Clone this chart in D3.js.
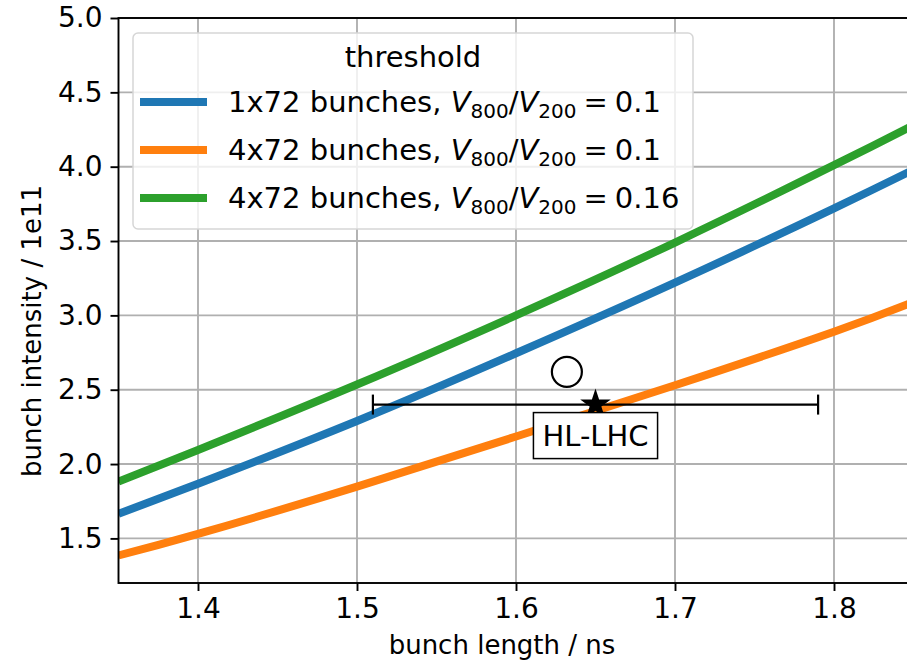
<!DOCTYPE html>
<html>
<head>
<meta charset="utf-8">
<script src="https://cdn.jsdelivr.net/npm/d3@7"></script>
<style>
  body { margin: 0; background: #fff; }
  svg text { font-family: "DejaVu Sans", sans-serif; fill: #000; }
</style>
</head>
<body>
<div id="chart"></div>
<script>
// data
var bunchLength = [1.35, 1.4, 1.5, 1.6, 1.7, 1.8, 1.85];
var thr1x72 = [1.665, 1.868, 2.29, 2.745, 3.22, 3.72, 3.98];
var thr4x72 = [1.385, 1.53, 1.848, 2.185, 2.53, 2.89, 3.09];
var thr4x72hi = [1.882, 2.095, 2.535, 3.0, 3.49, 4.01, 4.28];

var seriesNames = ["1x72 bunches, ", "4x72 bunches, ", "4x72 bunches, "];
var seriesRatio = ["0.1", "0.1", "0.16"];
var seriesColors = ["#1f77b4", "#ff7f0e", "#2ca02c"];

var xTicks = [1.4, 1.5, 1.6, 1.7, 1.8];
var yTicks = [1.5, 2.0, 2.5, 3.0, 3.5, 4.0, 4.5, 5.0];

// HL-LHC point
var hlStar = {x: 1.65, y: 2.4, xlo: 1.51, xhi: 1.79};
var hlCircle = {x: 1.632, y: 2.62};

var width = 907, height = 662;
var margin = {left: 118.5, top: 18};
var plotW = 795, plotH = 565;
var tickSize = 28, legendSize = 29, labelSize = 26;

var svg = d3.select("#chart").append("svg")
  .attr("width", width)
  .attr("height", height);

var x = d3.scaleLinear().domain([1.35, 1.85]).range([margin.left, margin.left + plotW]);
var y = d3.scaleLinear().domain([1.2, 5.0]).range([margin.top + plotH, margin.top]);

svg.append("defs").append("clipPath").attr("id", "plotclip")
  .append("rect")
  .attr("x", margin.left).attr("y", margin.top)
  .attr("width", plotW).attr("height", plotH);

// grid
var grid = svg.append("g").attr("stroke", "#b0b0b0").attr("stroke-width", 1.9);
grid.selectAll(".gx").data(xTicks).enter().append("line")
  .attr("x1", function(d){ return x(d); }).attr("x2", function(d){ return x(d); })
  .attr("y1", margin.top).attr("y2", margin.top + plotH);
grid.selectAll(".gy").data(yTicks).enter().append("line")
  .attr("x1", margin.left).attr("x2", margin.left + plotW)
  .attr("y1", function(d){ return y(d); }).attr("y2", function(d){ return y(d); });

// curves
var allSeries = [thr1x72, thr4x72, thr4x72hi];
var line = d3.line()
  .x(function(d, i){ return x(bunchLength[i]); })
  .y(function(d){ return y(d); })
  .curve(d3.curveNatural);

svg.append("g").attr("clip-path", "url(#plotclip)")
  .selectAll("path").data(allSeries).enter().append("path")
  .attr("d", line)
  .attr("fill", "none")
  .attr("stroke", function(d, i){ return seriesColors[i]; })
  .attr("stroke-width", 8);

// error bar + markers
var eb = svg.append("g").attr("stroke", "#000").attr("stroke-width", 2.2);
eb.append("line")
  .attr("x1", x(hlStar.xlo)).attr("x2", x(hlStar.xhi))
  .attr("y1", y(hlStar.y)).attr("y2", y(hlStar.y));
[hlStar.xlo, hlStar.xhi].forEach(function(v){
  eb.append("line")
    .attr("x1", x(v)).attr("x2", x(v))
    .attr("y1", y(hlStar.y) - 10).attr("y2", y(hlStar.y) + 10);
});

svg.append("path")
  .attr("d", d3.symbol(d3.symbolStar).size(290)())
  .attr("transform", "translate(" + x(hlStar.x) + "," + y(hlStar.y) + ")")
  .attr("fill", "#000");

svg.append("circle")
  .attr("cx", x(hlCircle.x)).attr("cy", y(hlCircle.y))
  .attr("r", 15)
  .attr("fill", "none")
  .attr("stroke", "#000")
  .attr("stroke-width", 2.2);

// HL-LHC label box
var lbl = svg.append("g").attr("transform", "translate(" + x(hlStar.x) + "," + (y(hlStar.y) + 31) + ")");
var lblText = lbl.append("text")
  .attr("text-anchor", "middle")
  .attr("dy", "0.36em")
  .style("font-size", legendSize + "px")
  .text("HL-LHC");
var bb = lblText.node().getBBox();
lbl.insert("rect", "text")
  .attr("x", bb.x - 9).attr("y", -23)
  .attr("width", bb.width + 18).attr("height", 46)
  .attr("fill", "#fff").attr("stroke", "#000").attr("stroke-width", 1.5);

// axes
var xAxis = svg.append("g")
  .attr("transform", "translate(0," + (margin.top + plotH) + ")")
  .call(d3.axisBottom(x).tickValues(xTicks).tickSize(8).tickPadding(7).tickFormat(d3.format(".1f")));
var yAxis = svg.append("g")
  .attr("transform", "translate(" + margin.left + ",0)")
  .call(d3.axisLeft(y).tickValues(yTicks).tickSize(8).tickPadding(8).tickFormat(d3.format(".1f")));
[xAxis, yAxis].forEach(function(a){
  a.select(".domain").remove();
  a.selectAll("line").attr("stroke", "#000").attr("stroke-width", 1.9);
  a.selectAll("text").style("font-size", tickSize + "px").style("font-family", "DejaVu Sans");
});

// spines (right one falls outside the window)
svg.append("rect")
  .attr("x", margin.left).attr("y", margin.top)
  .attr("width", plotW).attr("height", plotH)
  .attr("fill", "none").attr("stroke", "#000").attr("stroke-width", 1.9);

svg.append("text")
  .attr("x", 502).attr("y", 654)
  .attr("text-anchor", "middle")
  .style("font-size", labelSize + "px")
  .text("bunch length / ns");

svg.append("text")
  .attr("transform", "translate(41," + 331 + ") rotate(-90)")
  .attr("text-anchor", "middle")
  .style("font-size", labelSize + "px")
  .text("bunch intensity / 1e11");

// legend
var lg = svg.append("g");
lg.append("rect")
  .attr("x", 133).attr("y", 33).attr("width", 560).attr("height", 196)
  .attr("rx", 5)
  .attr("fill", "#fff").attr("fill-opacity", 0.8)
  .attr("stroke", "#d6d6d6").attr("stroke-width", 1.5);
lg.append("text")
  .attr("x", 413).attr("y", 67)
  .attr("text-anchor", "middle")
  .style("font-size", legendSize + "px")
  .text("threshold");

var entries = lg.selectAll(".entry").data(seriesNames).enter().append("g")
  .attr("transform", function(d, i){ return "translate(0," + (102 + i * 48) + ")"; });
entries.append("line")
  .attr("x1", 140).attr("x2", 207)
  .attr("stroke", function(d, i){ return seriesColors[i]; })
  .attr("stroke-width", 8);
var et = entries.append("text")
  .attr("x", 228).attr("y", 10)
  .style("font-size", legendSize + "px");
et.append("tspan").text(function(d){ return d; }).attr("xml:space", "preserve");
et.append("tspan").style("font-style", "italic").text("V");
et.append("tspan").attr("dy", 6).style("font-size", "20px").text("800");
et.append("tspan").attr("dy", -6).text("/");
et.append("tspan").style("font-style", "italic").text("V");
et.append("tspan").attr("dy", 6).style("font-size", "20px").text("200");
et.append("tspan").attr("dy", -6).attr("dx", 7).text("=");
et.append("tspan").attr("dx", 7).text(function(d, i){ return seriesRatio[i]; });
</script>
</body>
</html>
